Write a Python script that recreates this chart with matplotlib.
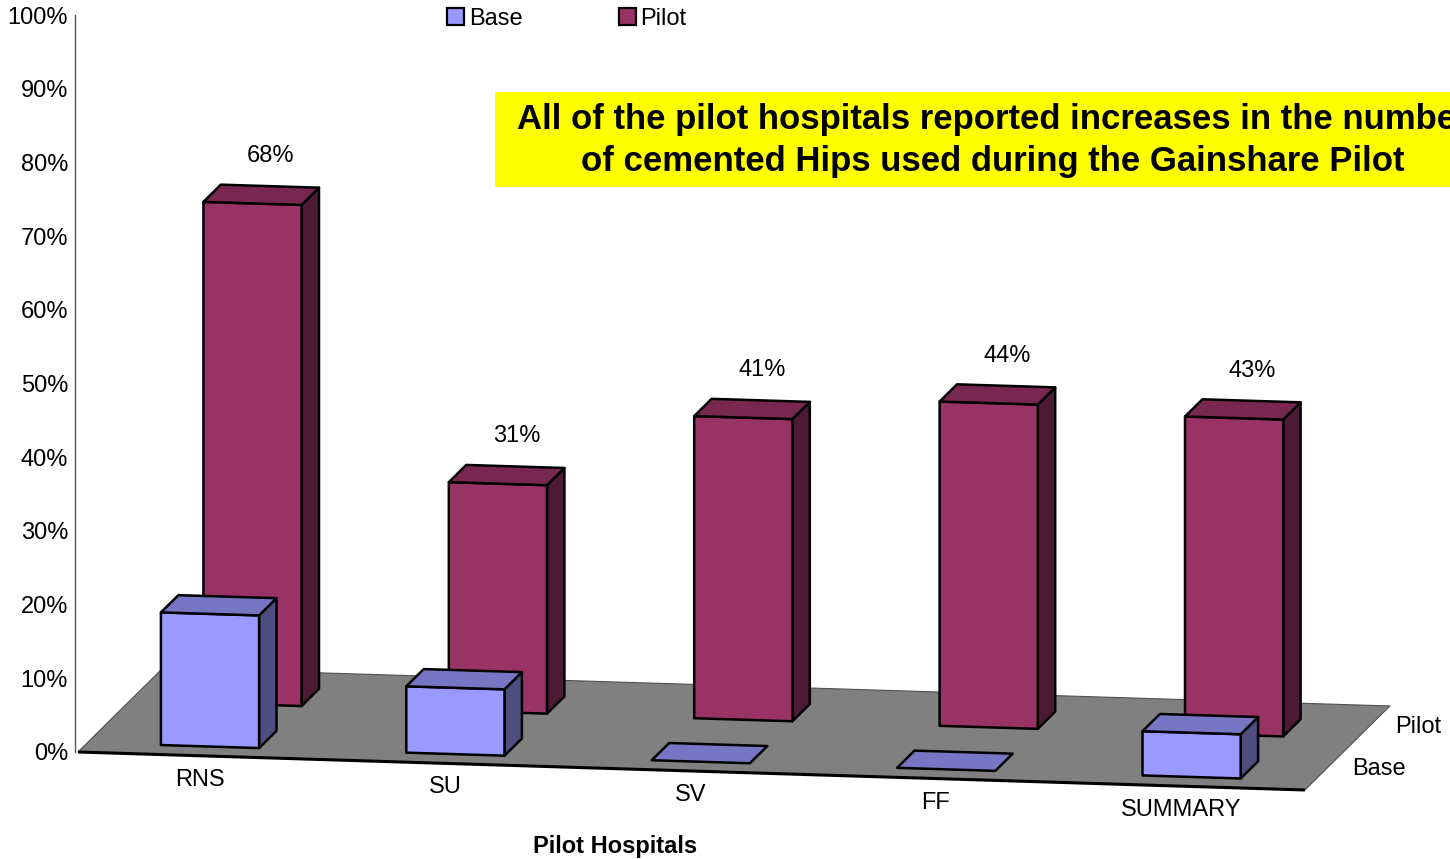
import matplotlib
matplotlib.use("Agg")
import matplotlib.pyplot as plt
from matplotlib.patches import Polygon, Patch, Rectangle
from matplotlib.ticker import PercentFormatter

# ---------------- data ----------------
categories = ["RNS", "SU", "SV", "FF", "SUMMARY"]
series_names = ["Base", "Pilot"]
base_values = [18, 9, 0, 0, 6]
pilot_values = [68, 31, 41, 44, 43]
pilot_labels = ["68%", "31%", "41%", "44%", "43%"]
y_ticks = [0, 10, 20, 30, 40, 50, 60, 70, 80, 90, 100]
title_lines = ["All of the pilot hospitals reported increases in the number",
               "of cemented Hips used during the Gainshare Pilot"]
x_title = "Pilot Hospitals"

# ---------------- style ----------------
plt.rcParams['font.family'] = ['Liberation Sans', 'DejaVu Sans']
FS = 17
face_colors = {"Base": ("#9999FF", "#7676C4", "#4D4D80"),
               "Pilot": ("#993366", "#782850", "#4D1A33")}
FLOOR = "#808080"

W, H = 1450, 859
fig = plt.figure(figsize=(W / 100, H / 100), dpi=100)
CAT_PX = 245.4
ax = fig.add_axes([75 / W, (H - 752) / H, (W - 75) / W, 737 / H])
ax.set_ylim(0, 100)
ax.set_xlim(0, (W - 75) / CAT_PX)

# oblique projection (category, depth row, value) -> data coords
X0 = 0.012
ROW_DX = 0.1732
ROW_DY = 5.70
CAT_SLOPE = 1.031


def proj(c, r, v):
    return (X0 + c + r * ROW_DX, v - c * CAT_SLOPE + r * ROW_DY)


n = len(categories)
nrows = len(series_names)

# floor
floor = Polygon([proj(0, 0, 0), proj(n, 0, 0), proj(n, nrows, 0), proj(0, nrows, 0)],
                closed=True, facecolor=FLOOR, edgecolor="#505050", lw=0.8,
                clip_on=False, zorder=1)
ax.add_patch(floor)
fx0, fy0 = proj(0, 0, 0)
fx1, fy1 = proj(n, 0, 0)
ax.plot([fx0, fx1], [fy0, fy1], color="black", lw=2.2, clip_on=False, zorder=1.5,
        solid_capstyle="butt")


def draw_bar(i, row, val, cols):
    front_c, top_c, side_c = cols
    c0, c1 = i + 0.3, i + 0.7
    r0, r1 = row + 0.22, row + 0.63
    front = [proj(c0, r0, 0), proj(c1, r0, 0), proj(c1, r0, val), proj(c0, r0, val)]
    side = [proj(c1, r0, 0), proj(c1, r1, 0), proj(c1, r1, val), proj(c1, r0, val)]
    top = [proj(c0, r0, val), proj(c1, r0, val), proj(c1, r1, val), proj(c0, r1, val)]
    z = 3 if row == 0 else 2
    for pts, col in ((side, side_c), (front, front_c), (top, top_c)):
        if val == 0 and pts is not top:
            continue
        ax.add_patch(Polygon(pts, closed=True, facecolor=col, edgecolor="black",
                             lw=1.8, joinstyle="round", clip_on=False, zorder=z))


series_values = {"Base": base_values, "Pilot": pilot_values}
for row in reversed(range(nrows)):
    name = series_names[row]
    for i in range(n):
        draw_bar(i, row, series_values[name][i], face_colors[name])

# data labels on pilot bars
for i in range(n):
    x, y = proj(i + 0.5, 1.63, pilot_values[i])
    ax.annotate(pilot_labels[i], (x, y), xytext=(1, 30), textcoords="offset pixels",
                ha="center", va="center", fontsize=FS, annotation_clip=False)

# category labels
for i, cat in enumerate(categories):
    x, y = proj(i + 0.5, 0, 0)
    ax.annotate(cat, (x, y), xytext=(-1, -24), textcoords="offset pixels",
                ha="center", va="center", fontsize=FS, annotation_clip=False)

# depth (series) labels
for row, name in enumerate(series_names):
    x, y = proj(n, row + 0.5, 0)
    ax.annotate(name, (x, y), xytext=(26, 0), textcoords="offset pixels",
                ha="left", va="center", fontsize=FS, annotation_clip=False)

# axes styling
ax.set_yticks(y_ticks)
ax.yaxis.set_major_formatter(PercentFormatter(xmax=100, decimals=0))
ax.tick_params(axis="y", length=0, pad=5, labelsize=FS)
ax.set_xticks([])
for s in ("top", "right", "bottom"):
    ax.spines[s].set_visible(False)
ax.spines["left"].set_color("#555555")
ax.spines["left"].set_linewidth(1.0)
ax.patch.set_alpha(0)

# axis title
fig.text(615 / W, 1 - 846 / H, x_title, ha="center", va="center",
         fontsize=FS, fontweight="bold")

# legend
handles = [Patch(facecolor=face_colors[s][0], edgecolor="black", lw=1.6, label=s)
           for s in series_names]
fig.legend(handles=handles, loc="center", bbox_to_anchor=(567 / W, 1 - 19 / H),
           ncol=2, frameon=False, fontsize=FS, handlelength=0.7, handleheight=0.7,
           handletextpad=0.2, columnspacing=4.1, borderpad=0, borderaxespad=0)

# yellow title box
fig.patches.append(Rectangle((495 / W, 1 - 187 / H), 1.0, 95 / H,
                             transform=fig.transFigure, facecolor="#FFFF00",
                             edgecolor="none", zorder=5))
fig.text(993 / W, 1 - 120 / H, title_lines[0], ha="center", va="center",
         fontsize=25, fontweight="bold", zorder=6)
fig.text(993 / W, 1 - 162 / H, title_lines[1], ha="center", va="center",
         fontsize=25, fontweight="bold", zorder=6)

fig.savefig("out.png", dpi=100)
